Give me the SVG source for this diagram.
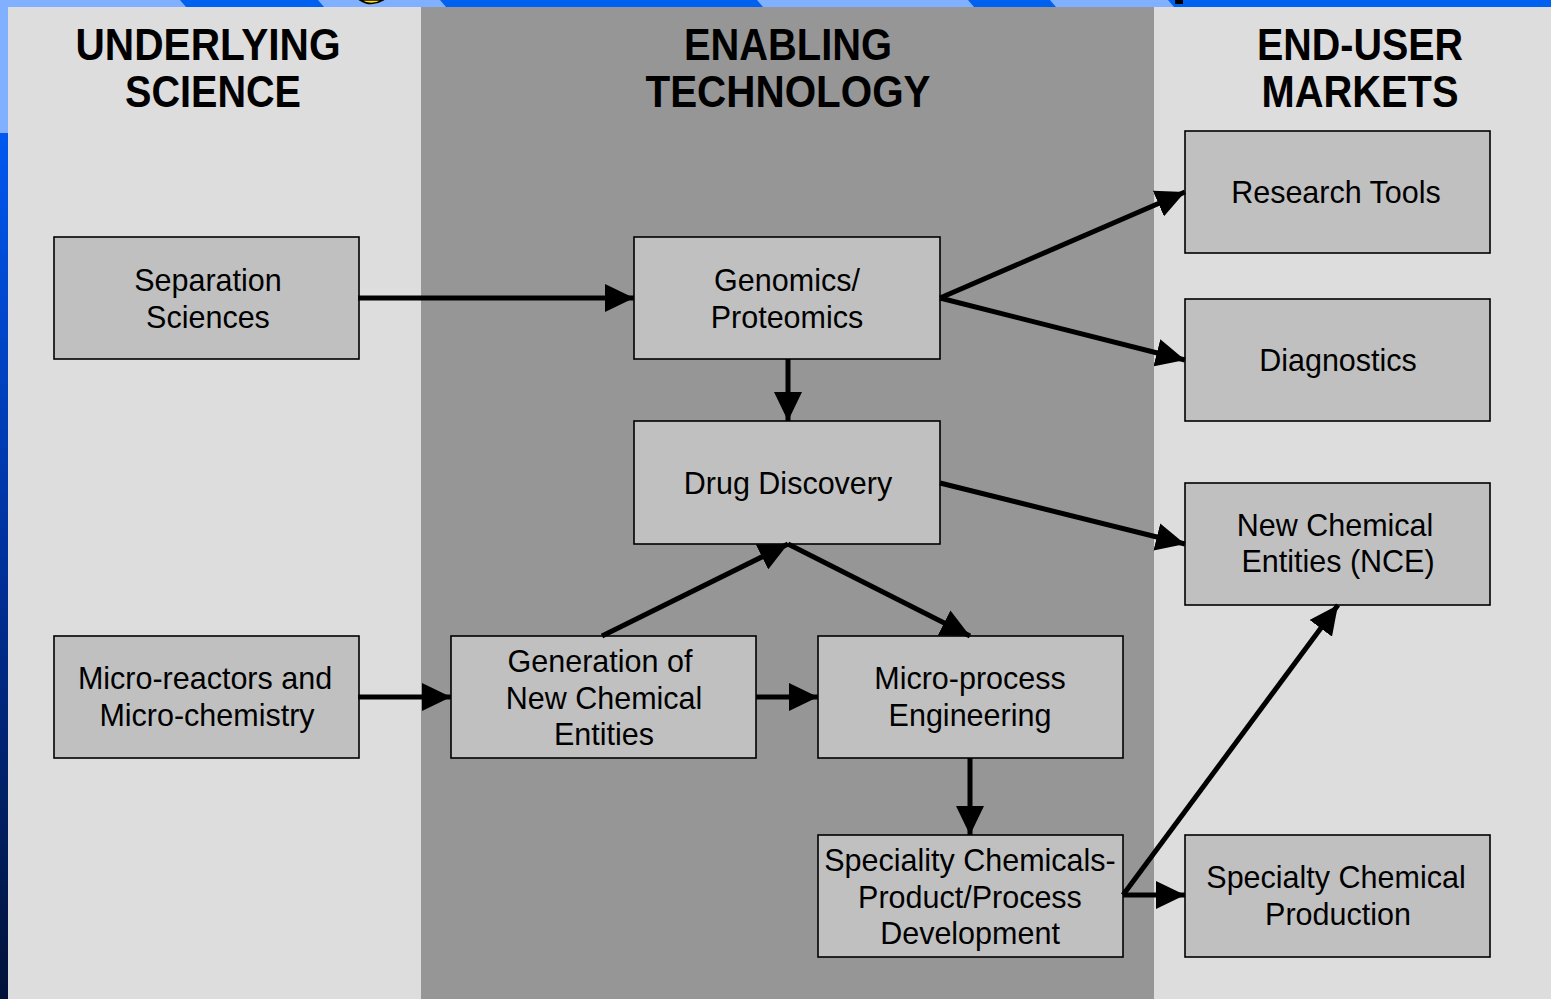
<svg xmlns="http://www.w3.org/2000/svg" width="1551" height="999" viewBox="0 0 1551 999">
<defs>
<linearGradient id="leftg" x1="0" y1="0" x2="0" y2="1">
<stop offset="0" stop-color="#0058F0"/>
<stop offset="0.5" stop-color="#00309A"/>
<stop offset="1" stop-color="#001238"/>
</linearGradient>
<marker id="ah" markerUnits="userSpaceOnUse" markerWidth="30" markerHeight="28" refX="29" refY="14" orient="auto">
<path d="M0,0 L29,14 L0,28 Z" fill="#000"/>
</marker>
<style>
.hdr{font-family:"Liberation Sans Narrow","Liberation Sans",Arial,sans-serif;font-weight:bold;font-size:44px;fill:#000;text-anchor:middle}
.box rect{fill:#C0C0C0;stroke:#000;stroke-width:1.6}
.box text{font-family:"Liberation Sans",Arial,sans-serif;font-size:30.5px;fill:#000;text-anchor:middle}
.conn line{stroke:#000;stroke-width:5;marker-end:url(#ah)}
</style>
</defs>
<!-- background frame -->
<rect x="0" y="0" width="1551" height="999" fill="#80B0FF"/>
<rect x="0" y="133" width="8" height="866" fill="url(#leftg)"/>
<g fill="#0060F0">
<polygon points="180,0 318,0 324,7 186,7"/>
<polygon points="440,0 757,0 763,7 446,7"/>
<polygon points="968,0 1050,0 1056,7 974,7"/>
<polygon points="1168,0 1551,0 1551,7 1174,7"/>
</g>
<path d="M360,0 Q371,7 383,0 Z" fill="#FFE000" stroke="#000" stroke-width="1.5"/>
<rect x="1175" y="0" width="8" height="4" fill="#000"/>
<!-- columns -->
<rect x="8" y="7" width="413" height="992" fill="#DDDDDD"/>
<rect x="421" y="7" width="733" height="992" fill="#969696"/>
<rect x="1154" y="7" width="397" height="992" fill="#DDDDDD"/>
<!-- headers -->
<g id="headers">
<text class="hdr" x="208" y="60" textLength="265" lengthAdjust="spacingAndGlyphs">UNDERLYING</text>
<text class="hdr" x="213" y="107" textLength="176" lengthAdjust="spacingAndGlyphs">SCIENCE</text>
<text class="hdr" x="788" y="60" textLength="208" lengthAdjust="spacingAndGlyphs">ENABLING</text>
<text class="hdr" x="788" y="107" textLength="285" lengthAdjust="spacingAndGlyphs">TECHNOLOGY</text>
<text class="hdr" x="1360" y="60" textLength="206" lengthAdjust="spacingAndGlyphs">END-USER</text>
<text class="hdr" x="1360" y="107" textLength="197" lengthAdjust="spacingAndGlyphs">MARKETS</text>
</g>
<!-- nodes -->
<g id="separation" class="box"><rect x="54" y="237" width="305" height="122"/><text x="208" y="291">Separation</text><text x="208" y="328">Sciences</text></g>
<g id="genomics" class="box"><rect x="634" y="237" width="306" height="122"/><text x="787" y="291">Genomics/</text><text x="787" y="328">Proteomics</text></g>
<g id="research" class="box"><rect x="1185" y="131" width="305" height="122"/><text x="1336" y="203">Research Tools</text></g>
<g id="diagnostics" class="box"><rect x="1185" y="299" width="305" height="122"/><text x="1338" y="371">Diagnostics</text></g>
<g id="drug" class="box"><rect x="634" y="421" width="306" height="123"/><text x="788" y="494">Drug Discovery</text></g>
<g id="nce" class="box"><rect x="1185" y="483" width="305" height="122"/><text x="1335" y="536">New Chemical</text><text x="1338" y="572">Entities (NCE)</text></g>
<g id="microreactors" class="box"><rect x="54" y="636" width="305" height="122"/><text x="205" y="689">Micro-reactors and</text><text x="207" y="726">Micro-chemistry</text></g>
<g id="generation" class="box"><rect x="451" y="636" width="305" height="122"/><text x="600" y="672">Generation of</text><text x="604" y="709">New Chemical</text><text x="604" y="745">Entities</text></g>
<g id="microprocess" class="box"><rect x="818" y="636" width="305" height="122"/><text x="970" y="689">Micro-process</text><text x="970" y="726">Engineering</text></g>
<g id="speciality" class="box"><rect x="818" y="835" width="305" height="122"/><text x="970" y="871">Speciality Chemicals-</text><text x="970" y="908">Product/Process</text><text x="970" y="944">Development</text></g>
<g id="specialtyprod" class="box"><rect x="1185" y="835" width="305" height="122"/><text x="1336" y="888">Specialty Chemical</text><text x="1338" y="925">Production</text></g>
<!-- connectors -->
<g id="connectors" class="conn">
<line x1="358" y1="298" x2="634" y2="298"/>
<line x1="940" y1="298" x2="1185" y2="192"/>
<line x1="940" y1="298" x2="1185" y2="360"/>
<line x1="788" y1="359" x2="788" y2="421"/>
<line x1="940" y1="483" x2="1185" y2="544"/>
<line x1="602" y1="636" x2="788" y2="544"/>
<line x1="788" y1="544" x2="970" y2="636"/>
<line x1="358" y1="697" x2="451" y2="697"/>
<line x1="756" y1="697" x2="818" y2="697"/>
<line x1="970" y1="758" x2="970" y2="835"/>
<line x1="1123" y1="895" x2="1338" y2="605"/>
<line x1="1123" y1="895" x2="1185" y2="895"/>
</g>
</svg>
